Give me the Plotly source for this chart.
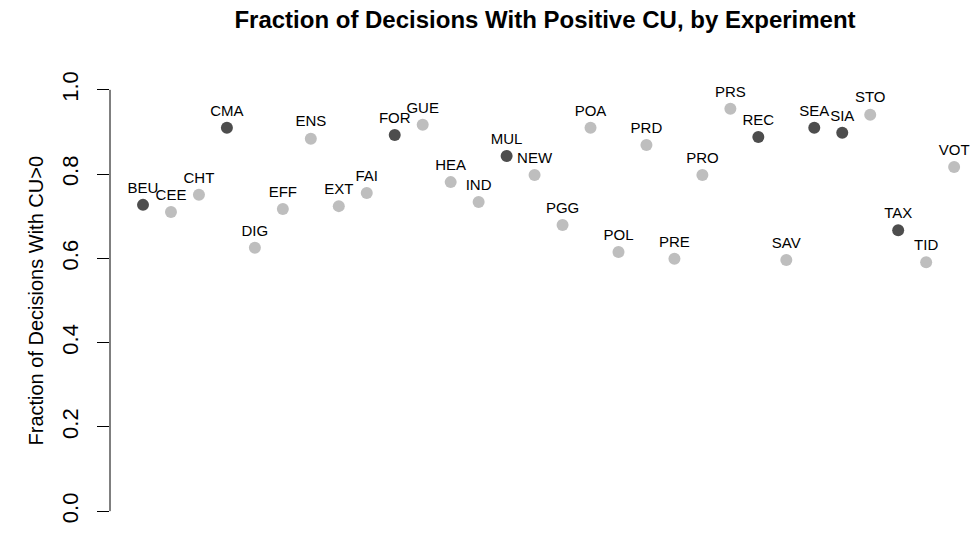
import plotly.graph_objects as go

experiments = ["BEU", "CEE", "CHT", "CMA", "DIG", "EFF", "ENS", "EXT", "FAI", "FOR",
               "GUE", "HEA", "IND", "MUL", "NEW", "PGG", "POA", "POL", "PRD", "PRE",
               "PRO", "PRS", "REC", "SAV", "SEA", "SIA", "STO", "TAX", "TID", "VOT"]
frac_positive = [0.727, 0.710, 0.751, 0.910, 0.625, 0.717, 0.884, 0.724, 0.755, 0.893,
                 0.917, 0.781, 0.734, 0.843, 0.798, 0.679, 0.910, 0.615, 0.869, 0.599,
                 0.798, 0.955, 0.888, 0.596, 0.910, 0.898, 0.941, 0.667, 0.591, 0.817]
highlighted = ["BEU", "CMA", "FOR", "MUL", "REC", "SEA", "SIA", "TAX"]
y_ticks = [0.0, 0.2, 0.4, 0.6, 0.8, 1.0]

DARK = "#4d4d4d"
LIGHT = "#bebebe"
FONT = "Liberation Sans, Arial, Helvetica, sans-serif"

W, H = 971, 534
L, R, T, B = 110, 0, 73, 6
px_per_x = 27.97
plot_w = W - L - R

idx = list(range(1, len(experiments) + 1))
colors = [DARK if e in highlighted else LIGHT for e in experiments]

fig = go.Figure()
fig.add_trace(go.Scatter(
    x=idx, y=frac_positive,
    mode="markers+text",
    text=experiments,
    textposition="top center",
    textfont=dict(family=FONT, size=15, color="black"),
    marker=dict(size=12, color=colors, line=dict(width=0)),
    hoverinfo="text+y",
    showlegend=False,
))

# y axis line only over the tick range, like base R
fig.add_shape(type="line", xref="paper", yref="y", x0=0, x1=0, y0=0, y1=1,
              line=dict(color="black", width=1))

fig.add_annotation(text="Fraction of Decisions With CU>0", xref="paper", yref="paper",
                   x=(22 - L) / plot_w, y=0.5, textangle=-90, showarrow=False,
                   font=dict(family=FONT, size=20, color="black"))

x_left = 1 - 33 / px_per_x
fig.update_layout(
    width=W, height=H,
    margin=dict(l=L, r=R, t=T, b=B),
    paper_bgcolor="white", plot_bgcolor="white",
    title=dict(text="<b>Fraction of Decisions With Positive CU, by Experiment</b>",
               x=545 / W, xanchor="center", y=1 - 20 / H, yanchor="middle",
               font=dict(family=FONT, size=24, color="black")),
    xaxis=dict(range=[x_left, x_left + plot_w / px_per_x], visible=False),
    yaxis=dict(range=[-0.04, 1.04], tickvals=y_ticks,
               ticktext=[f"{v:.1f}" for v in y_ticks],
               ticks="outside", ticklen=12, tickcolor="black", tickwidth=1,
               tickangle=-90, showgrid=False, zeroline=False, showline=False,
               ticklabelstandoff=10,
               tickfont=dict(family=FONT, size=22, color="black")),
)

fig.write_html("out.html", config={"displayModeBar": False},
               post_script="document.body.style.margin='0px';")
